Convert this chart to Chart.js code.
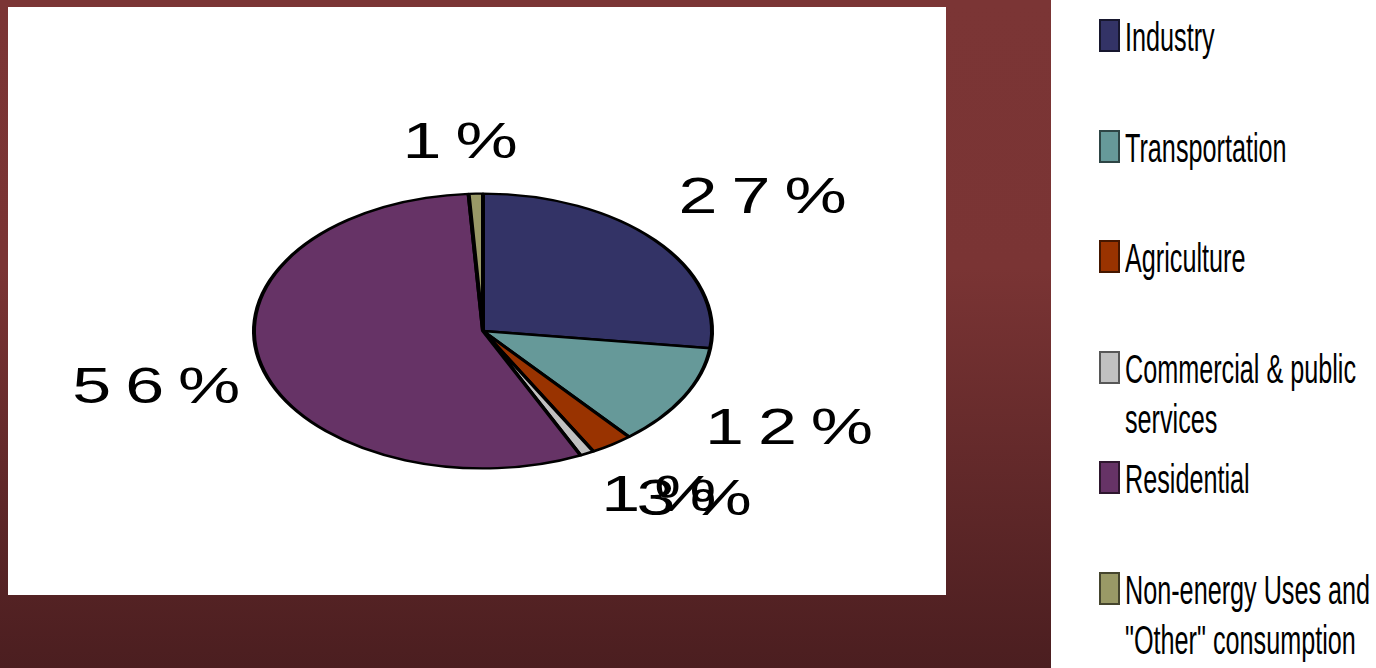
<!DOCTYPE html>
<html>
<head>
<meta charset="utf-8">
<script src="https://cdn.jsdelivr.net/npm/chart.js@4"></script>
<style>
    html, body {
        margin: 0;
        width: 1376px;
        height: 668px;
        overflow: hidden;
    }
    body {
        position: relative;
        background: linear-gradient(#7b3535 0%, #7a3434 40%, #4b1e20 100%);
        font-family: "Liberation Sans", Arial, sans-serif;
    }
    .chart-box {
        position: absolute;
        left: 8px;
        top: 7px;
        width: 938px;
        height: 588px;
        background: #fff;
    }
    .legend {
        position: absolute;
        left: 1051px;
        top: 0;
        width: 325px;
        height: 668px;
        background: #fff;
    }
    .item {
        position: absolute;
        left: 48px;
        display: flex;
        align-items: flex-start;
    }
    .swatch {
        width: 17px;
        height: 29px;
        margin-top: 7px;
        border: 2px solid rgba(0, 0, 0, 0.55);
        flex: none;
    }
    .text {
        width: 405px;
        margin-left: 5px;
        font-size: 40px;
        line-height: 50px;
        color: #000;
        transform: scaleX(0.63);
        transform-origin: left top;
    }
</style>
</head>
<body>
<script>
let create = (type, className, textContent = '') => {
    let elem = document.createElement(type);
    elem.className = className;
    elem.textContent = textContent;
    return elem;
};

// energy use shares, percent
const sectors = [
    'Industry',
    'Transportation',
    'Agriculture',
    'Commercial & public services',
    'Residential',
    'Non-energy Uses and "Other" consumption'
];
const shares = [27, 12, 3, 1, 56, 1];
const sectorColors = ['#333366', '#669999', '#993300', '#c0c0c0', '#663366', '#999966'];

// small shifts so the percent labels don't sit right on the ellipse path
const labelShift = [[22, 5], [5, 0], [18, 0], [20, -17], [6, 7], [-12, 19]];

let chartBox = create('div', 'chart-box');
let canvas = create('canvas', 'pie-canvas');
chartBox.append(canvas);

let legend = create('div', 'legend');
sectors.forEach((name, i) => {
    let item = create('div', 'item');
    item.style.top = (12 + i * 110.5) + 'px';
    let swatch = create('span', 'swatch');
    swatch.style.background = sectorColors[i];
    item.append(swatch, create('div', 'text', name));
    legend.append(item);
});

document.body.append(chartBox, legend);

// flatten the pie into an ellipse
const squash = 0.6;

let ellipsePlugin = {
    id: 'ellipse',
    beforeDatasetsDraw(chart) {
        let arc = chart.getDatasetMeta(0).data[0];
        let c = chart.ctx;
        c.save();
        c.translate(arc.x, arc.y);
        c.scale(1, squash);
        c.translate(-arc.x, -arc.y);
    },
    afterDatasetsDraw(chart) {
        chart.ctx.restore();
    }
};

// percent labels around the ellipse
let labelPlugin = {
    id: 'pctLabels',
    afterDraw(chart) {
        let c = chart.ctx;
        let meta = chart.getDatasetMeta(0);
        meta.data.forEach((arc, i) => {
            let mid = (arc.startAngle + arc.endAngle) / 2;
            let r = arc.outerRadius * 1.5;
            let x = arc.x + Math.cos(mid) * r + labelShift[i][0];
            let y = arc.y + Math.sin(mid) * r * squash + labelShift[i][1];
            c.save();
            c.translate(x, y);
            c.scale(1.4, 1);
            c.font = '50px "Liberation Sans", Arial, sans-serif';
            c.letterSpacing = '10px';
            c.fillStyle = '#000';
            c.textAlign = 'center';
            c.textBaseline = 'middle';
            c.fillText(shares[i] + '%', 5, 0);
            c.restore();
        });
    }
};

new Chart(canvas, {
    type: 'pie',
    data: {
        labels: sectors,
        datasets: [{
            data: shares,
            backgroundColor: sectorColors,
            borderColor: '#000',
            borderWidth: 4,
            radius: 229
        }]
    },
    options: {
        responsive: true,
        maintainAspectRatio: false,
        animation: false,
        layout: {
            padding: { left: 12, right: 0, top: 60, bottom: 0 }
        },
        plugins: {
            legend: { display: false },
            tooltip: { enabled: false }
        }
    },
    plugins: [ellipsePlugin, labelPlugin]
});
</script>
</body>
</html>
